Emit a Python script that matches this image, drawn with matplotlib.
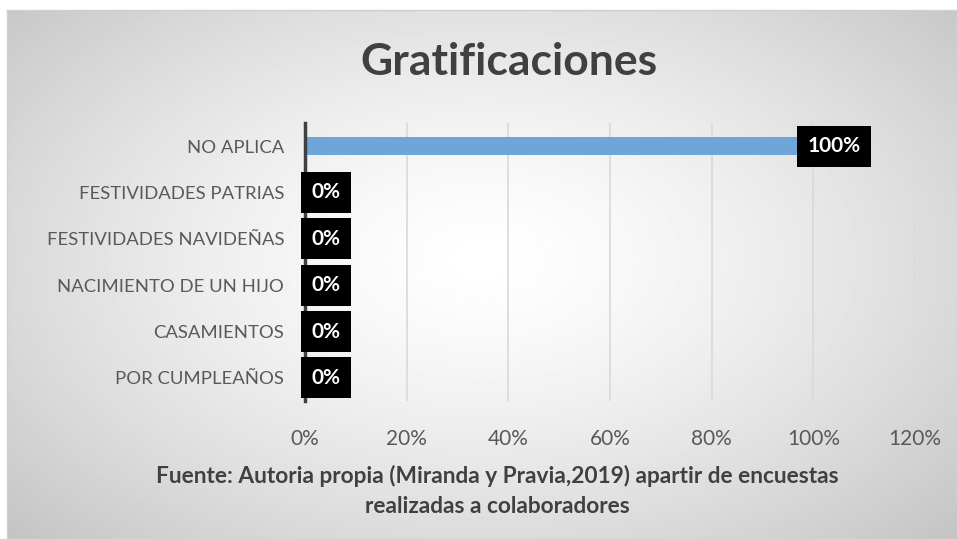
import numpy as np
import matplotlib
matplotlib.use('Agg')
import matplotlib.pyplot as plt
from matplotlib.ticker import FuncFormatter

categories = ['NO APLICA', 'FESTIVIDADES PATRIAS', 'FESTIVIDADES NAVIDEÑAS',
              'NACIMIENTO DE UN HIJO', 'CASAMIENTOS', 'POR CUMPLEAÑOS']
values = [1.0, 0.0, 0.0, 0.0, 0.0, 0.0]
xticks = [0, 0.2, 0.4, 0.6, 0.8, 1.0, 1.2]

title = 'Gratificaciones'
source = 'Fuente: Autoria propia (Miranda y Pravia,2019) apartir de encuestas\nrealizadas a colaboradores'

plt.rcParams['font.family'] = ['Lato', 'DejaVu Sans']
text_col = '#595959'
dark_col = '#404040'

W, H = 957, 539
fig = plt.figure(figsize=(W / 100, H / 100), dpi=100)

# radial gradient background in the chart frame
bg = fig.add_axes([7 / W, 0, 1 - 7 / W, 1 - 10 / H], zorder=-5)
ny, nx = 300, 500
yy, xx = np.mgrid[0:ny, 0:nx]
cx, cy = nx * 0.5, ny * 0.47
r = np.sqrt(((xx - cx) / (nx * 0.5)) ** 2 + ((yy - cy) / (ny * 0.55)) ** 2) / np.sqrt(2)
r = np.clip(r, 0, 1)
shade = 1 - 0.24 * r ** 1.4
bg.imshow(shade, cmap='gray', vmin=0, vmax=1, aspect='auto', interpolation='bilinear')
bg.set_xticks([])
bg.set_yticks([])
for s in bg.spines.values():
    s.set_color('#d0d0d0')
    s.set_linewidth(1)

ax = fig.add_axes([305 / W, 1 - 401 / H, (915 - 305) / W, (401 - 123) / H])
ax.set_facecolor('none')
y = np.arange(len(categories))
ax.barh(y, values, height=0.4, color='#6fa6d9', zorder=2)
ax.set_ylim(len(categories) - 0.5, -0.5)
ax.set_xlim(0, 1.2)
ax.set_yticks(y)
ax.set_yticklabels(categories, fontsize=13.3, color=text_col)
ax.set_xticks(xticks)
ax.xaxis.set_major_formatter(FuncFormatter(lambda v, p: '{:.0f}%'.format(v * 100)))
ax.tick_params(axis='x', labelsize=15, labelcolor=text_col, length=0, pad=20)
ax.tick_params(axis='y', length=0, pad=15)
ax.grid(axis='x', color='#d9d9d9', linewidth=1.2, zorder=0)
for s in ['top', 'right', 'bottom']:
    ax.spines[s].set_visible(False)
ax.spines['left'].set_color('#404040')
ax.spines['left'].set_linewidth(2.5)
ax.spines['left'].set_zorder(3)

for i, v in enumerate(values):
    off = -4 if v >= 1 else 4.5
    ax.annotate('{:.0f}%'.format(v * 100), (v, i), xytext=(off, 0), textcoords='offset points',
                ha='left', va='center', fontsize=15, fontweight='bold', color='white',
                bbox=dict(boxstyle='square,pad=0.5', fc='black', ec='none'), zorder=4)

fig.text(0.532, 1 - 62 / H, title, ha='center', va='center', fontsize=32,
         fontweight='bold', color=dark_col)
fig.text(0.52, 1 - 491 / H, source, ha='center', va='center', fontsize=16.3,
         fontweight='bold', color=dark_col, linespacing=1.5)

fig.savefig('out.png', dpi=100)
